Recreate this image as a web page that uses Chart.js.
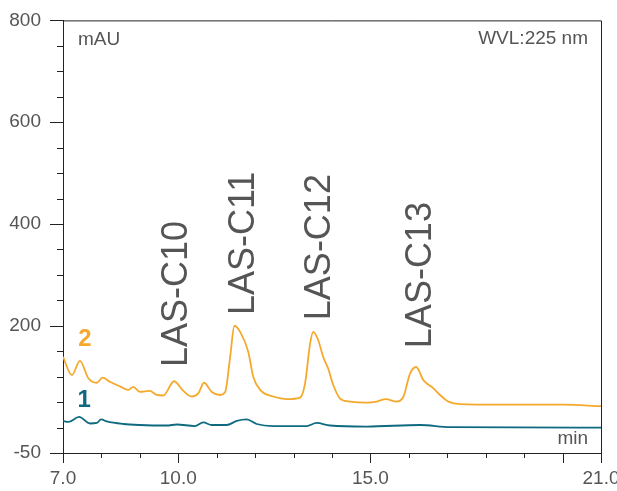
<!DOCTYPE html>
<html>
<head>
<meta charset="utf-8">
<script src="https://cdn.jsdelivr.net/npm/chart.js@4"></script>
<style>
    body { margin: 0; background: #fff; }
    #wrap { width: 617px; height: 491px; }
</style>
</head>
<body>
<div id="wrap"><canvas id="chrom"></canvas></div>
<script>
// trace 2 (orange)
let time2 = [7.0, 7.23, 7.44, 7.66, 7.88, 8.03, 8.22, 8.48, 8.70, 8.83, 9.0, 9.26, 9.44, 9.61, 9.89, 10.13, 10.35, 10.52, 10.67, 10.87, 11.09, 11.22, 11.35, 11.46, 11.61, 11.82, 11.95, 12.13, 12.47, 12.82, 13.17, 13.30, 13.43, 13.51, 13.64, 13.77, 13.90, 14.03, 14.21, 14.47, 14.90, 15.16, 15.40, 15.68, 15.86, 16.03, 16.19, 16.38, 16.64, 16.81, 17.03, 17.33, 18.37, 20.0, 21.0];
let signal2 = [139, 103, 131, 97, 88, 98, 90, 81, 74, 80, 70, 72, 64, 63, 91, 72, 61, 67, 88, 70, 64, 70, 139, 200, 188, 149, 100, 74, 61, 56, 59, 87, 165, 188, 172, 139, 116, 84, 57, 51, 49, 51, 56, 51, 61, 106, 119, 93, 77, 64, 51, 46, 45, 45, 42];

// trace 1 (teal)
let time1 = [7.0, 7.14, 7.42, 7.70, 7.88, 7.99, 8.14, 8.57, 9.0, 9.70, 9.96, 10.43, 10.65, 10.87, 11.26, 11.52, 11.78, 12.04, 12.47, 13.34, 13.60, 13.95, 14.90, 16.29, 17.07, 21.0];
let signal1 = [13, 11, 21, 8, 9, 16, 12, 7, 5, 4, 6, 3, 10, 5, 5, 13, 16, 7, 3, 3, 9, 4, 2, 5, 1, 0];

// peak names
let peakNames = ["LAS-C10", "LAS-C11", "LAS-C12", "LAS-C13"];
let peakTimes = [9.94, 11.68, 13.66, 16.29];
let peakLabelBase = [119, 221, 211, 156];

let yLabelValues = [800, 600, 400, 200, -50];
let xLabelValues = [7, 10, 15, 21];
let xMajorValues = [7, 10, 15, 20, 21];

let orange = "#f5a92c";
let teal = "#0f6a80";
let grey = "#555555";
let font = "'Liberation Sans', Arial, sans-serif";

function toPoints(xs, ys) {
    return xs.map((x, i) => ({ x: x, y: ys[i] }));
}

let chromPlugin = {
    id: "chromDecor",
    afterDraw(chart) {
        let ctx = chart.ctx;
        let area = chart.chartArea;
        let xs = chart.scales.x, ys = chart.scales.y;
        ctx.save();
        ctx.strokeStyle = "#222";
        ctx.lineWidth = 1;
        // frame top + right
        ctx.beginPath();
        ctx.moveTo(area.left, area.top + 0.5);
        ctx.lineTo(area.right + 0.5, area.top + 0.5);
        ctx.lineTo(area.right + 0.5, area.bottom);
        ctx.stroke();
        // tick marks
        ctx.beginPath();
        ys.ticks.forEach(t => {
            let py = Math.round(ys.getPixelForValue(t.value)) + 0.5;
            let len = yLabelValues.includes(t.value) ? 13 : 6;
            ctx.moveTo(area.left - len, py);
            ctx.lineTo(area.left, py);
        });
        xs.ticks.forEach(t => {
            let px = Math.round(xs.getPixelForValue(t.value)) + 0.5;
            let len = xMajorValues.includes(t.value) ? 10 : 5;
            ctx.moveTo(px, area.bottom);
            ctx.lineTo(px, area.bottom + len);
        });
        ctx.stroke();

        // peak annotations
        ctx.fillStyle = grey;
        ctx.font = "36px " + font;
        ctx.textAlign = "left";
        ctx.textBaseline = "middle";
        for (let i = 0; i < peakNames.length; i++) {
            ctx.save();
            ctx.translate(xs.getPixelForValue(peakTimes[i]), ys.getPixelForValue(peakLabelBase[i]));
            ctx.rotate(-Math.PI / 2);
            ctx.fillText(peakNames[i], 0, 1);
            ctx.restore();
        }

        // trace numbers
        ctx.font = "bold 24px " + font;
        ctx.textAlign = "center";
        ctx.fillStyle = orange;
        ctx.fillText("2", xs.getPixelForValue(7.57), ys.getPixelForValue(174));
        ctx.fillStyle = teal;
        ctx.fillText("1", xs.getPixelForValue(7.55), ys.getPixelForValue(54));

        // corner texts
        ctx.fillStyle = grey;
        ctx.font = "19px " + font;
        ctx.textAlign = "left";
        ctx.fillText("mAU", area.left + 15, area.top + 19);
        ctx.textAlign = "right";
        ctx.fillText("WVL:225 nm", area.right - 13, area.top + 18);
        ctx.fillText("min", area.right - 13, area.bottom - 14);
        ctx.restore();
    }
};

new Chart(document.getElementById("chrom"), {
    type: "line",
    data: {
        datasets: [{
            data: toPoints(time2, signal2),
            borderColor: orange,
            borderWidth: 1.8,
            pointRadius: 0,
            cubicInterpolationMode: "monotone",
            fill: false
        }, {
            data: toPoints(time1, signal1),
            borderColor: teal,
            borderWidth: 1.8,
            pointRadius: 0,
            cubicInterpolationMode: "monotone",
            fill: false
        }]
    },
    options: {
        responsive: true,
        maintainAspectRatio: false,
        animation: false,
        layout: { padding: { top: 20, right: 16, left: 0, bottom: 0 } },
        plugins: {
            legend: { display: false },
            tooltip: { enabled: false }
        },
        scales: {
            x: {
                type: "linear",
                min: 7,
                max: 21,
                afterFit: scale => {
                    scale.height = 38;
                    scale.paddingLeft = 0;
                    scale.paddingRight = 0;
                },
                border: { display: true, color: "#222", width: 1 },
                grid: { display: false, drawTicks: true, tickLength: 10 },
                ticks: {
                    stepSize: 1,
                    autoSkip: false,
                    maxRotation: 0,
                    padding: 4,
                    color: grey,
                    font: { family: font, size: 19 },
                    callback: v => xLabelValues.includes(v) ? v.toFixed(1) : ""
                }
            },
            y: {
                type: "linear",
                min: -50,
                max: 800,
                afterFit: scale => { scale.width = 63; },
                border: { display: true, color: "#222", width: 1 },
                grid: { display: false, drawTicks: true, tickLength: 13 },
                ticks: {
                    stepSize: 50,
                    autoSkip: false,
                    padding: 9,
                    color: grey,
                    font: { family: font, size: 19 },
                    callback: v => yLabelValues.includes(v) ? String(v) : ""
                }
            }
        }
    },
    plugins: [chromPlugin]
});
</script>
</body>
</html>
